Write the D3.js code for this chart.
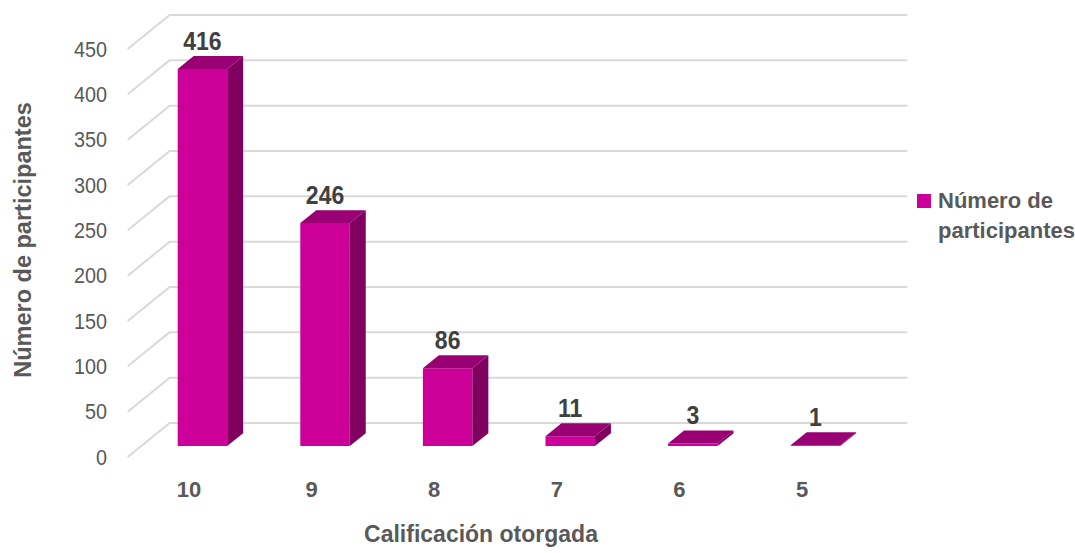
<!DOCTYPE html>
<html><head><meta charset="utf-8">
<script src="https://cdn.jsdelivr.net/npm/d3@7"></script>
<style>
body{margin:0;background:#fff;}
text{font-family:"Liberation Sans Narrow","Arial Narrow","Liberation Sans",Arial,sans-serif;}
</style></head>
<body><svg id="c" width="1075" height="553"></svg>
<script>
const categories = ["10","9","8","7","6","5"];
const values = [416,246,86,11,3,1];
const yTicks = [0,50,100,150,200,250,300,350,400,450];
const seriesName = "Número de participantes";
const xTitle = "Calificación otorgada";
const yTitle = "Número de participantes";

const svg = d3.select("#c");
const DX = 42, DY = 34;           // depth projection
const x = d3.scaleBand().domain(categories).range([127.7, 863.3]).paddingInner(0).paddingOuter(0);
const y = d3.scaleLinear().domain([0,450]).range([457, 49]);
const z0 = 0.32, z1 = 0.70;       // bar depth range
const barW = 49.5;
const P = (px, py, z) => [px + z*DX, py - z*DY];

// gridlines
const g = svg.append("g");
yTicks.forEach(t => {
  const f = [x.range()[0], y(t)];
  const b = P(f[0], f[1], 1);
  const e = P(x.range()[1], y(t), 1);
  g.append("path").attr("d", `M${f[0]},${f[1]}L${b[0]},${b[1]}L${e[0]+2},${e[1]}`)
    .attr("fill","none").attr("stroke","#d9d9d9").attr("stroke-width",2);
  g.append("text").attr("transform",`translate(107,${f[1]}) scale(0.9,1)`).attr("dy","0.35em").attr("text-anchor","end")
    .attr("font-size",22).attr("fill","#595959").text(t);
});

// bars
const bars = svg.append("g");
categories.forEach((c,i) => {
  const v = values[i];
  const cx = x(c) + x.bandwidth()/2;
  const l = cx - barW/2, r = cx + barW/2;
  const yb = y(0), yt = y(v);
  const fl = (px,py,z)=>P(px,py,z).join(",");
  const front = [fl(l,yb,z0),fl(r,yb,z0),fl(r,yt,z0),fl(l,yt,z0)];
  const top = [fl(l,yt,z0),fl(r,yt,z0),fl(r,yt,z1),fl(l,yt,z1)];
  const side = [fl(r,yb,z0),fl(r,yb,z1),fl(r,yt,z1),fl(r,yt,z0)];
  bars.append("polygon").attr("points",front.join(" ")).attr("fill","#cc0099");
  bars.append("polygon").attr("points",side.join(" ")).attr("fill","#800060");
  bars.append("polygon").attr("points",top.join(" ")).attr("fill","#990073");
  const lp = P(cx, yt, z1);
  bars.append("text").attr("transform",`translate(${P(cx,yt,z0)[0]},${lp[1]-6}) scale(0.92,1)`).attr("text-anchor","middle")
    .attr("font-size",25).attr("font-weight","bold").attr("fill","#404040").text(v);
  svg.append("text").attr("x", cx).attr("y", 489).attr("dy","0.35em").attr("text-anchor","middle")
    .attr("font-size",22).attr("font-weight","bold").attr("fill","#595959").text(c);
});

svg.append("text").attr("x",481).attr("y",542).attr("text-anchor","middle")
  .attr("font-size",23).attr("font-weight","bold").attr("fill","#595959").text(xTitle);
svg.append("text").attr("transform","translate(31,240) rotate(-90)").attr("text-anchor","middle")
  .attr("font-size",23.5).attr("font-weight","bold").attr("fill","#595959").text(yTitle);

// legend
svg.append("rect").attr("x",917).attr("y",194).attr("width",14).attr("height",14).attr("fill","#cc0099");
const lt = svg.append("text").attr("x",938).attr("y",208).attr("font-size",22).attr("font-weight","bold").attr("fill","#595959");
lt.append("tspan").attr("x",938).text("Número de");
lt.append("tspan").attr("x",938).attr("dy",30).text("participantes");
</script></body></html>
